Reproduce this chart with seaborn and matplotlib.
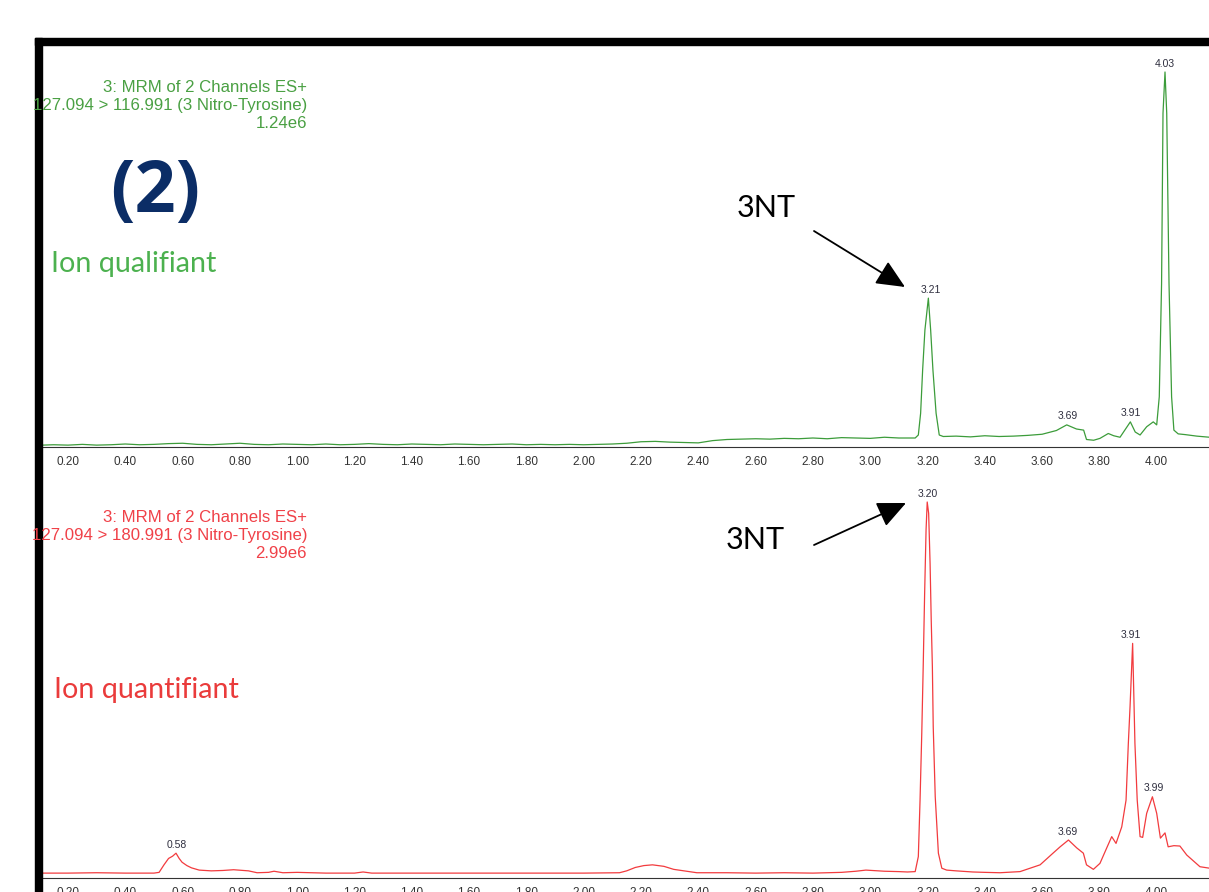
import matplotlib
matplotlib.use("Agg")
import matplotlib.pyplot as plt
import seaborn as sns
import pandas as pd
from matplotlib.patches import Rectangle
from matplotlib.ticker import MultipleLocator, FormatStrFormatter

# ---------------- data ----------------
qual_time = [0.11, 0.15, 0.20, 0.25, 0.30, 0.35, 0.40, 0.45, 0.50, 0.55,
             0.60, 0.65, 0.70, 0.75, 0.80, 0.85, 0.90, 0.95, 1.00, 1.05,
             1.10, 1.15, 1.20, 1.25, 1.30, 1.35, 1.40, 1.45, 1.50, 1.55,
             1.60, 1.65, 1.70, 1.75, 1.80, 1.85, 1.90, 1.95, 2.00, 2.05,
             2.10, 2.15, 2.20, 2.25, 2.30, 2.35, 2.40, 2.45, 2.50, 2.55,
             2.60, 2.65, 2.70, 2.75, 2.80, 2.85, 2.90, 2.95, 3.00, 3.05,
             3.10, 3.157, 3.168, 3.176, 3.183, 3.191, 3.203, 3.211, 3.219, 3.230,
             3.241, 3.255, 3.30, 3.35, 3.40, 3.45, 3.50, 3.55, 3.60, 3.65,
             3.686, 3.72, 3.745, 3.755, 3.78, 3.802, 3.831, 3.85, 3.872, 3.908,
             3.925, 3.942, 3.965, 3.988, 4.000, 4.009, 4.017, 4.022, 4.029, 4.035,
             4.043, 4.052, 4.060, 4.075, 4.10, 4.14, 4.185]
qual_int = [0.5, 0.6, 0.5, 0.7, 0.5, 0.6, 0.8, 0.6, 0.7, 0.9,
            1.0, 0.7, 0.6, 0.8, 1.0, 0.7, 0.6, 0.8, 0.7, 0.6,
            0.8, 0.6, 0.7, 0.9, 0.7, 0.6, 0.8, 0.7, 0.6, 0.8,
            0.7, 0.6, 0.7, 0.8, 0.6, 0.7, 0.6, 0.7, 0.6, 0.7,
            0.8, 1.0, 1.4, 1.5, 1.3, 1.2, 1.1, 1.7, 2.0, 2.1,
            2.2, 2.1, 2.3, 2.2, 2.4, 2.2, 2.5, 2.4, 2.3, 2.6,
            2.4, 2.4, 3.2, 9.0, 20.5, 31.2, 39.7, 31.2, 20.5, 9.0,
            3.2, 2.8, 2.9, 2.7, 3.0, 2.8, 2.9, 3.1, 3.4, 4.4,
            5.9, 4.8, 4.5, 2.0, 1.8, 2.3, 3.6, 3.0, 2.6, 6.7,
            4.0, 3.2, 5.4, 6.7, 5.9, 13.4, 43.5, 89.0, 100.0, 89.0,
            43.5, 13.4, 4.5, 3.5, 3.3, 2.9, 2.6]

quant_time = [0.11, 0.20, 0.30, 0.40, 0.45, 0.50, 0.518, 0.535, 0.551, 0.565,
              0.577, 0.588, 0.598, 0.615, 0.631, 0.658, 0.70, 0.74, 0.778, 0.83,
              0.86, 0.90, 0.919, 0.95, 1.00, 1.10, 1.20, 1.23, 1.26, 1.40,
              1.60, 1.80, 2.00, 2.125, 2.15, 2.18, 2.21, 2.24, 2.28, 2.314,
              2.35, 2.395, 2.50, 2.60, 2.70, 2.80, 2.90, 2.95, 2.985, 3.05,
              3.10, 3.13, 3.157, 3.168, 3.174, 3.180, 3.185, 3.190, 3.195, 3.199,
              3.204, 3.209, 3.213, 3.217, 3.220, 3.227, 3.238, 3.250, 3.267, 3.30,
              3.358, 3.40, 3.453, 3.523, 3.593, 3.638, 3.663, 3.692, 3.721, 3.744,
              3.755, 3.779, 3.802, 3.825, 3.843, 3.858, 3.878, 3.893, 3.901, 3.907,
              3.916, 3.924, 3.932, 3.942, 3.951, 3.965, 3.985, 4.000, 4.013, 4.029,
              4.040, 4.060, 4.081, 4.105, 4.151, 4.185]
quant_int = [1.3, 1.3, 1.4, 1.3, 1.3, 1.3, 1.5, 3.5, 5.2, 5.8,
             6.6, 5.2, 4.2, 3.3, 2.7, 2.1, 1.9, 2.0, 2.2, 1.9,
             1.4, 1.5, 1.8, 1.4, 1.5, 1.3, 1.3, 1.6, 1.3, 1.3,
             1.3, 1.3, 1.3, 1.4, 1.9, 2.8, 3.3, 3.5, 3.1, 2.3,
             1.9, 1.4, 1.4, 1.3, 1.4, 1.3, 1.5, 1.8, 2.1, 1.8,
             1.7, 1.6, 1.7, 5.7, 20.7, 38.5, 56.2, 75.7, 92.6, 100.0,
             97.0, 83.7, 68.6, 56.2, 40.2, 21.6, 6.6, 2.6, 2.1, 1.9,
             1.6, 1.5, 1.4, 1.7, 3.5, 6.6, 8.3, 10.1, 8.0, 6.6,
             3.5, 2.3, 3.9, 7.9, 11.0, 9.2, 13.6, 20.7, 35.8, 45.6,
             62.4, 35.8, 20.7, 11.0, 10.8, 17.2, 21.6, 17.2, 10.6, 12.0,
             8.3, 8.6, 8.5, 6.1, 3.0, 2.6]

qual_peak_labels = ["3.21", "3.69", "3.91", "4.03"]
qual_peak_heights = [39.7, 5.9, 6.7, 100.0]
quant_peak_labels = ["0.58", "3.20", "3.69", "3.91", "3.99"]
quant_peak_heights = [6.6, 100.0, 10.1, 62.4, 21.6]

qual_header = ["3: MRM of 2 Channels ES+",
               "127.094 > 116.991 (3 Nitro-Tyrosine)",
               "1.24e6"]
quant_header = ["3: MRM of 2 Channels ES+",
                "127.094 > 180.991 (3 Nitro-Tyrosine)",
                "2.99e6"]

assert len(qual_time) == len(qual_int)
assert len(quant_time) == len(quant_int)

# ---------------- styling ----------------
sns.set_style("white")
plt.rcParams['font.family'] = ['Liberation Sans', 'DejaVu Sans']

W, H = 1209, 892
fig = plt.figure(figsize=(W / 100, H / 100), dpi=100)
fig.patch.set_facecolor("white")


def fx(px):
    return px / W


def fy(py):
    return 1 - py / H


def tx(px):  # pixel -> retention time
    return (px - 10.7) / 286.5


GREEN = "#3c9c3a"
GREEN_TXT = "#4aa043"
RED = "#f23b3e"
RED_TXT = "#f04148"
LBL = "#2e2e3e"

ax1 = fig.add_axes([fx(42), fy(447), 1 - fx(42), fy(45) - fy(447)])
ax2 = fig.add_axes([fx(42), fy(878), 1 - fx(42), fy(470) - fy(878)])

df_qual = pd.DataFrame({"time": qual_time, "intensity": qual_int})
df_quant = pd.DataFrame({"time": quant_time, "intensity": quant_int})

sns.lineplot(data=df_qual, x="time", y="intensity", ax=ax1, color=GREEN,
             linewidth=0.9, estimator=None, sort=False)
sns.lineplot(data=df_quant, x="time", y="intensity", ax=ax2, color=RED,
             linewidth=0.9, estimator=None, sort=False)

ax1.set_ylim(0, (447 - 45) / 3.75)
ax2.set_ylim(0, (878 - 470) / 3.76)

for ax in (ax1, ax2):
    ax.set_xlim(tx(42), tx(1209))
    ax.set_xlabel("")
    ax.set_ylabel("")
    ax.set_yticks([])
    for s in ("top", "right", "left"):
        ax.spines[s].set_visible(False)
    ax.spines["bottom"].set_color("#333333")
    ax.spines["bottom"].set_linewidth(0.8)
    ax.xaxis.set_major_locator(MultipleLocator(0.2))
    ax.xaxis.set_minor_locator(MultipleLocator(0.02))
    ax.xaxis.set_major_formatter(FormatStrFormatter("%.2f"))
    ax.tick_params(axis="x", which="major", direction="out", length=5,
                   width=0.8, color="#333333", pad=1.5, labelsize=8.5,
                   labelcolor="#333333")
    ax.tick_params(axis="x", which="minor", direction="out", length=3,
                   width=0.6, color="#333333")
    ax.set_facecolor("none")

# peak labels
for lbl, h in zip(qual_peak_labels, qual_peak_heights):
    ax1.annotate(lbl, xy=(float(lbl), h), xytext=(0, 2.5),
                 textcoords="offset points", ha="center", va="bottom",
                 fontsize=7.5, color=LBL)
for lbl, h in zip(quant_peak_labels, quant_peak_heights):
    ax2.annotate(lbl, xy=(float(lbl), h), xytext=(0, 2.5),
                 textcoords="offset points", ha="center", va="bottom",
                 fontsize=7.5, color=LBL)

# headers
for i, line in enumerate(qual_header):
    fig.text(fx(307), fy(88 + i * 17.5), line, ha="right", va="center",
             fontsize=12.1, color=GREEN_TXT, zorder=5)
for i, line in enumerate(quant_header):
    fig.text(fx(307), fy(518 + i * 17.5), line, ha="right", va="center",
             fontsize=12.1, color=RED_TXT, zorder=5)

# big labels
fig.text(fx(155), fy(193), "(2)", ha="center", va="center", fontsize=52,
         fontweight="bold", color="#0b2d66",
         family=["Open Sans", "DejaVu Sans"])
fig.text(fx(51), fy(264), "Ion qualifiant", ha="left", va="center",
         fontsize=20.7, color="#4cb14f", family=["Lato", "DejaVu Sans"])
fig.text(fx(54), fy(690), "Ion quantifiant", ha="left", va="center",
         fontsize=20.7, color="#ea3b3b", family=["Lato", "DejaVu Sans"])
fig.text(fx(766), fy(208), "3NT", ha="center", va="center", fontsize=22,
         color="black", family=["Lato", "DejaVu Sans"])
fig.text(fx(755), fy(540), "3NT", ha="center", va="center", fontsize=22,
         color="black", family=["Lato", "DejaVu Sans"])

# arrows
arrow_style = dict(arrowstyle="-|>,head_length=1.1,head_width=0.5",
                   color="black", lw=1.3, shrinkA=0, shrinkB=0,
                   mutation_scale=16)
ax_over = fig.add_axes([0, 0, 1, 1], facecolor="none")
ax_over.set_xlim(0, W)
ax_over.set_ylim(H, 0)
ax_over.axis("off")
ax_over.annotate("", xy=(905, 287), xytext=(814, 231), arrowprops=arrow_style)
ax_over.annotate("", xy=(906, 503), xytext=(814, 545), arrowprops=arrow_style)

# frame: white margin on the left, thick black border
ax_over.add_patch(Rectangle((0, 0), 35, H, color="white", zorder=8))
ax_over.add_patch(Rectangle((35, 38), W - 35, 7, color="black", zorder=10))
ax_over.add_patch(Rectangle((35, 38), 7, H - 38, color="black", zorder=10))

fig.savefig("out.png", dpi=100)
